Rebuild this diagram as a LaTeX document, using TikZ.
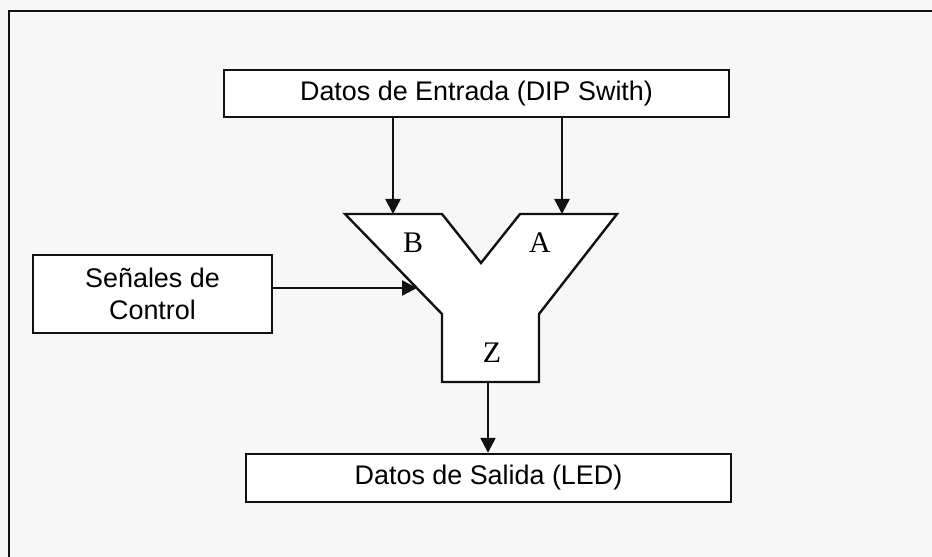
\documentclass[tikz,border=0pt]{standalone}
\usepackage{fontspec}
\setmainfont{Liberation Serif}
\newfontfamily\labelsans{Liberation Sans}
\usetikzlibrary{arrows.meta}
\definecolor{paper}{HTML}{F7F7F7}
\definecolor{ink}{HTML}{111111}
\tikzset{
  blockbox/.style={draw=ink, fill=white, line width=2.4bp, inner sep=0pt,
    font=\labelsans\fontsize{27}{32}\selectfont, align=center},
  flow/.style={draw=ink, line width=2.4bp,
    -{Triangle[length=15bp,width=15bp]}},
  portlabel/.style={inner sep=0pt, font=\fontsize{30}{32}\selectfont}
}
\begin{document}
\begin{tikzpicture}[x=1bp,y=-1bp]
  % page background and frame
  \fill[paper] (0,0) rectangle (932,557);
  \useasboundingbox (0,0) rectangle (932,557);
  \draw[ink, line width=2.4bp] (9,560) -- (9,11) -- (935,11);

  % blocks
  \node[blockbox, minimum width=505bp, minimum height=47bp] (entrada)
    at (476.5,93.5) {Datos de Entrada (DIP Swith)};
  \node[blockbox, minimum width=239bp, minimum height=78bp] (control)
    at (152.5,294) {Señales de\\Control};
  \node[blockbox, minimum width=485bp, minimum height=48bp] (salida)
    at (488.5,478) {Datos de Salida (LED)};

  % multiplexer body (Y shape)
  \draw[ink, fill=white, line width=2.4bp, line join=miter]
    (345,214) -- (442,214) -- (481,263) -- (520,214) -- (617,214)
    -- (539,314) -- (539,382) -- (442,382) -- (442,314) -- cycle;
  \node[portlabel] (pB) at (413,243) {B};
  \node[portlabel] (pA) at (540,243) {A};
  \node[portlabel] (pZ) at (492,353) {Z};

  % ports
  \coordinate (inB) at (393,214);
  \coordinate (inA) at (562,214);
  \coordinate (sel) at (417,288);
  \coordinate (outZ) at (488,382);

  % connections
  \draw[flow] (entrada.south -| inB) -- (inB);
  \draw[flow] (entrada.south -| inA) -- (inA);
  \draw[flow] (control.east |- sel) -- (sel);
  \draw[flow] (outZ) -- (salida.north -| outZ);
\end{tikzpicture}
\end{document}
